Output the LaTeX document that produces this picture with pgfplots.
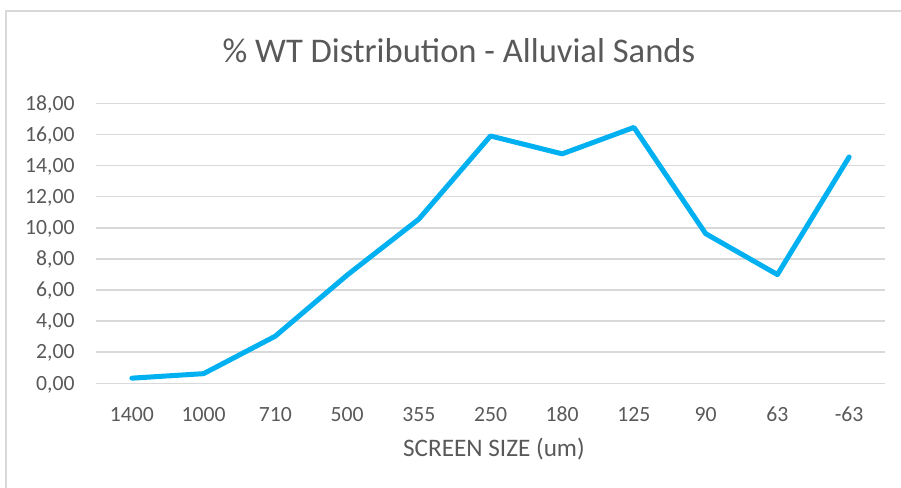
\documentclass[border=0pt]{standalone}
\usepackage{fontspec}
\setmainfont{Carlito}
\usepackage{pgfplots}
\pgfplotsset{compat=1.18}
\definecolor{linecol}{HTML}{00B0F0}
\definecolor{gridcol}{HTML}{D9D9D9}
\definecolor{textcol}{HTML}{595959}
\definecolor{framecol}{HTML}{D9D9D9}
\begin{document}
\begin{tikzpicture}
\path[use as bounding box] (-48pt,-52.35pt) rectangle (402.5pt,191.65pt);
\draw[framecol, line width=1pt] (-45pt,-60pt) -- (-45pt,186.15pt) -- (410pt,186.15pt);
\begin{axis}[
  at={(0,0)}, anchor=south west,
  scale only axis, width=394.5pt, height=140pt,
  xmin=-0.5, xmax=10.5, ymin=0, ymax=18,
  xtick={0,...,10},
  xticklabels={1400,1000,710,500,355,250,180,125,90,63,-63},
  ytick={0,2,...,18},
  axis line style={draw=none},
  major tick length=0pt,
  ymajorgrids,
  major grid style={gridcol, line width=0.8pt},
  tick label style={font=\fontsize{10.85}{12}\selectfont, text=textcol},
  xticklabel style={anchor=base, yshift=-18.85pt, inner sep=0pt},
  yticklabel style={anchor=base east, xshift=-10.5pt, yshift=-3.4pt, inner sep=0pt,
    /pgf/number format/.cd, fixed, fixed zerofill, precision=2, use comma, assume math mode=true},
  xlabel={SCREEN SIZE (um)},
  every axis x label/.style={at={(axis description cs:0.5,0)}, anchor=base, xshift=1.75pt, yshift=-36.6pt,
    font=\fontsize{12.6}{14}\selectfont, text=textcol},
  clip=false,
]
\addplot[linecol, line width=2.5pt, line join=round, line cap=round] coordinates {
  (0,0.33) (1,0.62) (2,3.03) (3,6.95) (4,10.55) (5,15.9) (6,14.75) (7,16.45) (8,9.62) (9,6.99) (10,14.55)
};
\end{axis}
\node[anchor=base, inner sep=0pt, font=\fontsize{17.3}{20}\selectfont, text=textcol] at (181.5pt,160.15pt) {\% WT Distribution - Alluvial Sands};
\end{tikzpicture}
\end{document}
